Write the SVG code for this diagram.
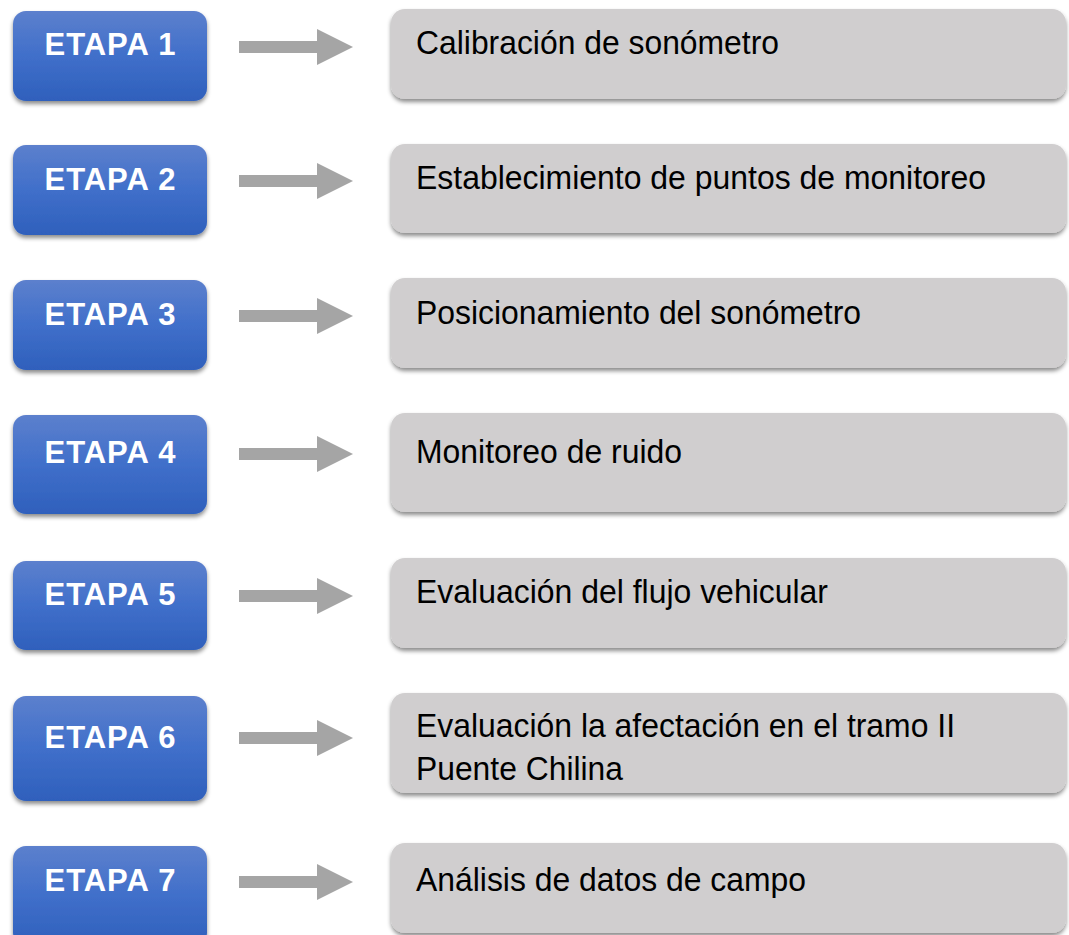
<svg xmlns="http://www.w3.org/2000/svg" width="1069" height="935" viewBox="0 0 1069 935">
<defs>
<linearGradient id="blueGrad" x1="0" y1="0" x2="0" y2="1">
<stop offset="0" stop-color="#5c80cd"/>
<stop offset="0.5" stop-color="#406fca"/>
<stop offset="1" stop-color="#2f60bc"/>
</linearGradient>
<filter id="shadow" x="-10%" y="-20%" width="120%" height="150%">
<feDropShadow dx="0" dy="3" stdDeviation="2.2" flood-color="#000" flood-opacity="0.45"/>
</filter>
</defs>
<style>
.stage{fill:url(#blueGrad);filter:url(#shadow);}
.step{fill:#d0cecf;filter:url(#shadow);}
.lbl{font-family:"Liberation Sans",Arial,sans-serif;font-weight:bold;font-size:31px;fill:#ffffff;text-anchor:middle;}
.txt{font-family:"Liberation Sans",Arial,sans-serif;font-size:34px;fill:#000000;}
.arr{fill:#a5a5a5;}
</style>
<rect width="1069" height="935" fill="#ffffff"/>

<g id="connectors">
<path class="arr" d="M239,41 H317 V29 L353,47 L317,65 V53 H239 Z"/>
<path class="arr" d="M239,175 H317 V163 L353,181 L317,199 V187 H239 Z"/>
<path class="arr" d="M239,310 H317 V298 L353,316 L317,334 V322 H239 Z"/>
<path class="arr" d="M239,448 H317 V436 L353,454 L317,472 V460 H239 Z"/>
<path class="arr" d="M239,590 H317 V578 L353,596 L317,614 V602 H239 Z"/>
<path class="arr" d="M239,732 H317 V720 L353,738 L317,756 V744 H239 Z"/>
<path class="arr" d="M239,876 H317 V864 L353,882 L317,900 V888 H239 Z"/>
</g>

<g id="etapa1"><rect class="stage" x="13" y="11" width="194" height="90" rx="13"/><text class="lbl" x="110" y="55" textLength="131" lengthAdjust="spacing">ETAPA 1</text></g>
<g id="paso1"><rect class="step" x="391" y="9" width="675" height="90" rx="14"/><text class="txt" x="416" y="54" textLength="363" lengthAdjust="spacingAndGlyphs">Calibración de sonómetro</text></g>

<g id="etapa2"><rect class="stage" x="13" y="145" width="194" height="90" rx="13"/><text class="lbl" x="110" y="190" textLength="131" lengthAdjust="spacing">ETAPA 2</text></g>
<g id="paso2"><rect class="step" x="391" y="144" width="675" height="89" rx="14"/><text class="txt" x="416" y="189" textLength="570" lengthAdjust="spacingAndGlyphs">Establecimiento de puntos de monitoreo</text></g>

<g id="etapa3"><rect class="stage" x="13" y="280" width="194" height="90" rx="13"/><text class="lbl" x="110" y="325" textLength="131" lengthAdjust="spacing">ETAPA 3</text></g>
<g id="paso3"><rect class="step" x="391" y="278" width="675" height="90" rx="14"/><text class="txt" x="416" y="324" textLength="445" lengthAdjust="spacingAndGlyphs">Posicionamiento del sonómetro</text></g>

<g id="etapa4"><rect class="stage" x="13" y="415" width="194" height="99" rx="13"/><text class="lbl" x="110" y="463" textLength="131" lengthAdjust="spacing">ETAPA 4</text></g>
<g id="paso4"><rect class="step" x="391" y="413" width="675" height="99" rx="14"/><text class="txt" x="416" y="463" textLength="266" lengthAdjust="spacingAndGlyphs">Monitoreo de ruido</text></g>

<g id="etapa5"><rect class="stage" x="13" y="561" width="194" height="89" rx="13"/><text class="lbl" x="110" y="605" textLength="131" lengthAdjust="spacing">ETAPA 5</text></g>
<g id="paso5"><rect class="step" x="391" y="558" width="675" height="90" rx="14"/><text class="txt" x="416" y="603" textLength="412" lengthAdjust="spacingAndGlyphs">Evaluación del flujo vehicular</text></g>

<g id="etapa6"><rect class="stage" x="13" y="696" width="194" height="105" rx="13"/><text class="lbl" x="110" y="748" textLength="131" lengthAdjust="spacing">ETAPA 6</text></g>
<g id="paso6"><rect class="step" x="391" y="693" width="675" height="100" rx="14"/><text class="txt" x="416" y="737" textLength="539" lengthAdjust="spacingAndGlyphs">Evaluación la afectación en el tramo II</text><text class="txt" x="416" y="780" textLength="207" lengthAdjust="spacingAndGlyphs">Puente Chilina</text></g>

<g id="etapa7"><rect class="stage" x="13" y="846" width="194" height="100" rx="13"/><text class="lbl" x="110" y="891" textLength="131" lengthAdjust="spacing">ETAPA 7</text></g>
<g id="paso7"><rect class="step" x="391" y="843" width="675" height="90" rx="14"/><text class="txt" x="416" y="891" textLength="390" lengthAdjust="spacingAndGlyphs">Análisis de datos de campo</text></g>
</svg>
